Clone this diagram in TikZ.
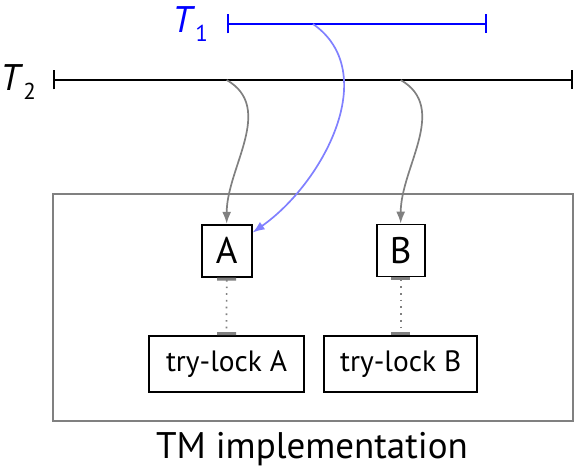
\documentclass[tikz,border=0pt]{standalone}
\usepackage{fontspec}
\setmainfont{PT Sans}
\usetikzlibrary{arrows.meta}
\definecolor{lightblue}{RGB}{128,128,255}
\definecolor{midgray}{RGB}{128,128,128}
\begin{document}
\begin{tikzpicture}[x=1pt,y=1pt]
\tikzset{
  letterbox/.style={draw=black, line width=1.8pt, inner sep=0pt, minimum width=50pt, minimum height=52pt, font=\fontsize{37}{40}\selectfont},
  lockbox/.style={draw=black, line width=1.8pt, inner sep=0pt, minimum width=155pt, minimum height=56pt, font=\fontsize{29.4}{32}\selectfont},
  timeline/.style={line width=1.7pt, {Bar[width=19pt]}-{Bar[width=19pt]}},
  tlabel/.style={anchor=base east, inner sep=0pt, font=\fontsize{37}{40}\selectfont},
  gate/.style={draw=midgray, line width=1.7pt, -{Latex[length=12pt,width=9pt]}},
  bluegate/.style={gate, draw=lightblue, -{Latex[length=12pt,width=9pt,color=lightblue]}},
  lockline/.style={draw=midgray, line width=1.7pt, dash pattern=on 1.7pt off 5pt, {Bar[width=19pt,line width=3pt]}-{Bar[width=19pt,line width=3pt]}},
  frame/.style={draw=midgray, line width=2pt, inner sep=0pt, minimum width=520pt, minimum height=227pt},
}
\newcommand{\tsub}[1]{\textit{T}\raisebox{-0.22em}{\fontsize{23}{25}\selectfont #1}}
\useasboundingbox (0,0) rectangle (574,468);

% implementation frame
\node[frame] (tm) at (313,160.5) {};
\node[anchor=base, inner sep=0pt, font=\fontsize{37}{42}\selectfont] (cap) at (312,9.5) {TM implementation};

% objects
\node[letterbox] (A) at (226.7,217.3) {A};
\node[letterbox, minimum width=48pt] (B) at (400.7,217.5) {B};
\node[lockbox] (lockA) at (226.5,104) {try-lock A};
\node[lockbox, minimum width=153pt] (lockB) at (400.7,104) {try-lock B};

% timelines
\coordinate (t1s) at (227,444);
\coordinate (t1e) at (487,444);
\coordinate (t2s) at (53,388);
\coordinate (t2e) at (573,388);
\draw[timeline, draw=blue] (t1s) -- (t1e);
\draw[timeline, draw=black] (t2s) -- (t2e);
\node[tlabel, text=blue] (l1) at (208,435) {\tsub{1}};
\node[tlabel, text=black] (l2) at (36,377) {\tsub{2}};

% accesses
\coordinate (p1) at (226.7,388);
\coordinate (p2) at (400.7,388);
\coordinate (p3) at (313,444);
\draw[gate] (p1) to[out=-30, in=90] (A.north);
\draw[gate] (p2) to[out=-30, in=90] (B.north);
\draw[bluegate] (p3) to[out=-35, in=35] (A.35);

% lock links
\draw[lockline] (A.south) -- (lockA.north);
\draw[lockline] (B.south) -- (lockB.north);
\end{tikzpicture}
\end{document}
